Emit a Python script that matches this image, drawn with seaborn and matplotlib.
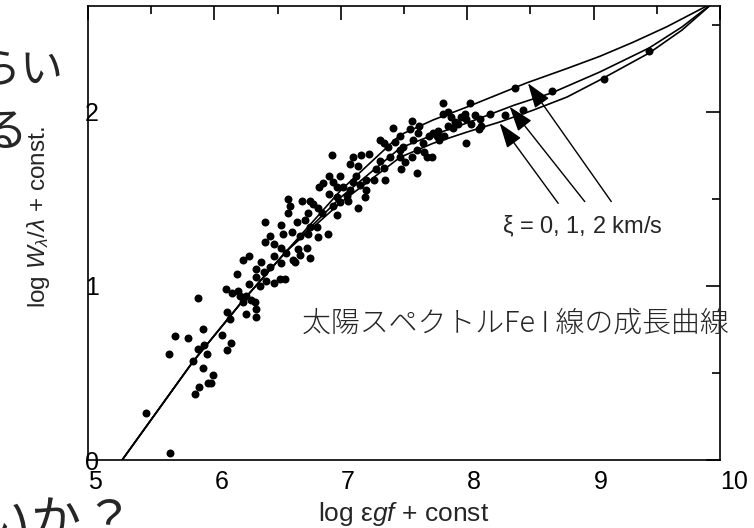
import matplotlib
matplotlib.use("Agg")
import matplotlib.pyplot as plt
import seaborn as sns
import pandas as pd

# ---------------- data ----------------
obs_x = [5.65, 5.46, 5.85, 5.88, 5.95, 5.97, 5.99, 5.91, 5.83, 5.94, 5.87, 5.92, 5.64, 5.69, 5.79, 5.91,
         6.06, 6.13, 6.10, 5.87, 6.10, 6.12, 6.09, 6.14, 6.19, 6.18, 6.23, 6.27, 6.25, 6.33, 6.33, 6.29,
         6.25, 6.20, 6.23, 6.32, 6.27, 6.36, 6.33, 6.41, 6.47, 6.39, 6.44, 6.52, 6.56, 6.37, 6.33, 6.47,
         6.53, 6.62, 6.68, 6.76, 6.66, 6.73, 6.64, 6.40, 6.47, 6.53, 6.57, 6.44, 6.54, 6.61, 6.68, 6.74,
         6.82, 6.90,
         6.40, 6.53, 6.65, 6.58, 6.60, 6.58, 6.69, 6.76, 6.78, 6.74, 6.72, 6.82, 6.85, 6.81, 6.76, 6.83,
         6.86, 6.91, 6.94, 6.99, 6.97, 7.02, 7.05, 7.06, 6.97, 6.91, 6.99, 6.94, 6.97, 7.14, 7.07, 7.10,
         7.12, 7.15, 7.20, 7.19, 7.20, 7.26, 7.28, 7.07, 7.14, 7.10, 7.16, 7.22, 6.93, 7.31, 7.34, 7.35,
         7.31, 7.34, 7.37, 7.39, 7.41, 7.43, 7.47,
         7.47, 7.49, 7.47, 7.51, 7.48, 7.56, 7.55, 7.57, 7.60, 7.56, 7.61, 7.62, 7.65, 7.66, 7.68, 7.72,
         7.60, 7.70, 7.73, 7.76, 7.77, 7.78, 7.82, 7.81, 7.81, 7.85, 7.87, 7.85, 7.89, 7.90, 7.93, 7.95,
         7.98, 7.99, 8.02, 7.99, 8.03, 8.06, 8.10, 8.09, 8.11, 8.18, 8.30, 8.38, 8.44, 8.67, 9.08, 9.44]
obs_y = [0.04, 0.27, 0.38, 0.42, 0.44, 0.44, 0.49, 0.53, 0.57, 0.61, 0.64, 0.66, 0.61, 0.71, 0.70, 0.75,
         0.72, 0.67, 0.63, 0.93, 0.85, 0.81, 0.98, 0.96, 0.97, 1.07, 1.15, 1.17, 0.84, 0.82, 0.87, 0.92,
         0.94, 0.94, 0.91, 0.91, 1.01, 1.00, 1.05, 1.03, 1.02, 1.08, 1.11, 1.04, 1.04, 1.14, 1.10, 1.17,
         1.13, 1.15, 1.18, 1.16, 1.21, 1.22, 1.14, 1.25, 1.24, 1.22, 1.19, 1.29, 1.30, 1.31, 1.29, 1.30,
         1.28, 1.30,
         1.37, 1.35, 1.37, 1.42, 1.46, 1.50, 1.49, 1.49, 1.47, 1.42, 1.38, 1.45, 1.42, 1.34, 1.34, 1.57,
         1.59, 1.63, 1.60, 1.63, 1.57, 1.57, 1.52, 1.49, 1.51, 1.53, 1.48, 1.46, 1.41, 1.45, 1.55, 1.60,
         1.63, 1.58, 1.55, 1.51, 1.61, 1.61, 1.67, 1.70, 1.69, 1.74, 1.75, 1.76, 1.75, 1.72, 1.68, 1.61,
         1.84, 1.82, 1.80, 1.74, 1.91, 1.83, 1.78,
         1.86, 1.80, 1.74, 1.71, 1.67, 1.95, 1.90, 1.84, 1.78, 1.74, 1.88, 1.92, 1.82, 1.77, 1.74, 1.74,
         1.65, 1.86, 1.88, 1.86, 1.89, 1.84, 1.86, 1.99, 2.05, 2.00, 1.97, 1.92, 1.91, 1.94, 1.93, 1.97,
         1.99, 1.96, 2.05, 1.82, 1.93, 1.98, 1.96, 1.90, 1.92, 1.99, 1.98, 2.14, 2.01, 2.12, 2.19, 2.35]

# theoretical curves of growth, xi = 0, 1, 2 km/s
cog0_x = [5.27, 5.83, 6.23, 6.57, 7.00, 7.47, 7.73, 8.00, 8.26, 8.52, 8.79, 9.05, 9.44, 9.70, 9.95]
cog0_y = [0.00, 0.565, 0.92, 1.20, 1.48, 1.74, 1.82, 1.885, 1.943, 2.01, 2.086, 2.184, 2.339, 2.471, 2.63]
cog1_x = [5.27, 5.83, 6.23, 6.57, 7.00, 7.47, 7.73, 8.00, 8.375, 8.67, 9.05, 9.44, 9.70, 9.95]
cog1_y = [0.00, 0.565, 0.92, 1.20, 1.51, 1.793, 1.868, 1.937, 2.04, 2.11, 2.23, 2.368, 2.489, 2.63]
cog2_x = [5.27, 5.83, 6.23, 6.57, 7.00, 7.47, 7.73, 8.00, 8.47, 8.79, 9.05, 9.31, 9.58, 9.95]
cog2_y = [0.00, 0.565, 0.92, 1.20, 1.55, 1.868, 1.954, 2.029, 2.167, 2.25, 2.32, 2.40, 2.49, 2.63]

# arrows from the xi label to each curve
arrow_tail_x = [8.72, 8.93, 9.14]
arrow_tail_y = [1.475, 1.485, 1.485]
arrow_head_x = [8.257, 8.336, 8.481]
arrow_head_y = [1.935, 2.030, 2.165]

x_major = [5, 6, 7, 8, 9, 10]
x_minor = [5.5, 6.5, 7.5, 8.5, 9.5]
y_major = [0, 1, 2]
y_minor = [0.5, 1.5, 2.5]

# ---------------- style ----------------
sns.set_theme(style="white")
plt.rcParams["font.family"] = ["Liberation Sans", "Noto Sans CJK JP", "DejaVu Sans"]
plt.rcParams["mathtext.fontset"] = "custom"
plt.rcParams["mathtext.rm"] = "Liberation Sans"
plt.rcParams["mathtext.it"] = "Liberation Sans:italic"
plt.rcParams["mathtext.bf"] = "Liberation Sans:bold"

W, H = 754, 528
fig = plt.figure(figsize=(W / 100, H / 100), dpi=100)
fig.patch.set_facecolor("white")
ax = fig.add_axes([88 / W, 1 - 460 / H, 632 / W, 454 / H])
ax.set_facecolor("white")

curves = pd.concat([
    pd.DataFrame({"x": cog0_x, "y": cog0_y, "xi": 0}),
    pd.DataFrame({"x": cog1_x, "y": cog1_y, "xi": 1}),
    pd.DataFrame({"x": cog2_x, "y": cog2_y, "xi": 2}),
], ignore_index=True)
sns.lineplot(data=curves, x="x", y="y", units="xi", estimator=None, sort=False,
             color="black", lw=1.2, ax=ax, legend=False)

obs = pd.DataFrame({"x": obs_x, "y": obs_y})
sns.scatterplot(data=obs, x="x", y="y", ax=ax, color="black", s=33,
                linewidth=0, zorder=3, legend=False)

ax.set_xlim(5, 10)
ax.set_ylim(0, 2.609)

ax.set_xticks(x_major, labels=[str(v) for v in x_major], ha="left")
ax.set_xticks(x_minor, minor=True)
ax.set_yticks(y_major, labels=[str(v) for v in y_major], ha="left")
ax.set_yticks(y_minor, minor=True)
ax.tick_params(which="both", direction="in", top=True, right=True,
               width=1.2, color="black", labelcolor="black")
ax.tick_params(which="major", length=10)
ax.tick_params(which="minor", length=5.5)
ax.tick_params(axis="x", labelsize=18, pad=7)
ax.tick_params(axis="y", labelsize=18, pad=2)
for s in ax.spines.values():
    s.set_linewidth(1.2)
    s.set_color("black")

ax.set_xlabel(r"log $\mathrm{\varepsilon}\mathit{gf}$ + const", fontsize=19, va="center")
ax.xaxis.set_label_coords(0.5, -0.118)
ax.set_ylabel(r"log $\mathit{W}_{\lambda}/\lambda$ + const.", fontsize=17.5, va="center")
ax.yaxis.set_label_coords(-0.079, 0.535)

for tx, ty, hx, hy in zip(arrow_tail_x, arrow_tail_y, arrow_head_x, arrow_head_y):
    ax.annotate("", xy=(hx, hy), xytext=(tx, ty),
                arrowprops=dict(arrowstyle="-|>,head_length=1.1,head_width=0.38",
                                mutation_scale=14, lw=1.0, color="black",
                                shrinkA=0, shrinkB=0))

ax.text(8.91, 1.345, r"$\mathrm{\xi}$ = 0, 1, 2 km/s", fontsize=17, ha="center", va="center")
ax.text(6.69, 0.787, "太陽スペクトルFe I 線の成長曲線", fontsize=20.8,
        family=["Noto Sans CJK JP", "DejaVu Sans"], weight="light", ha="left", va="center")

# fragments of the surrounding slide text, cut by the picture edge
frag = ["Noto Sans CJK JP"]
fig.text(20 / W, 1 - 71 / H, "ら", fontsize=31, family=frag, ha="right", va="center")
fig.text(63 / W, 1 - 71 / H, "い", fontsize=31, family=frag, ha="right", va="center")
fig.text(28 / W, 1 - 133 / H, "る", fontsize=33, family=frag, ha="right", va="center")
fig.text(5 / W, 1 - 523 / H, "い", fontsize=36, family=frag, ha="center", va="center")
fig.text(55 / W, 1 - 523 / H, "か", fontsize=36, family=frag, ha="center", va="center")
fig.text(108 / W, 1 - 523 / H, "？", fontsize=36, family=frag, ha="center", va="center")

fig.savefig("out.png", dpi=100)
